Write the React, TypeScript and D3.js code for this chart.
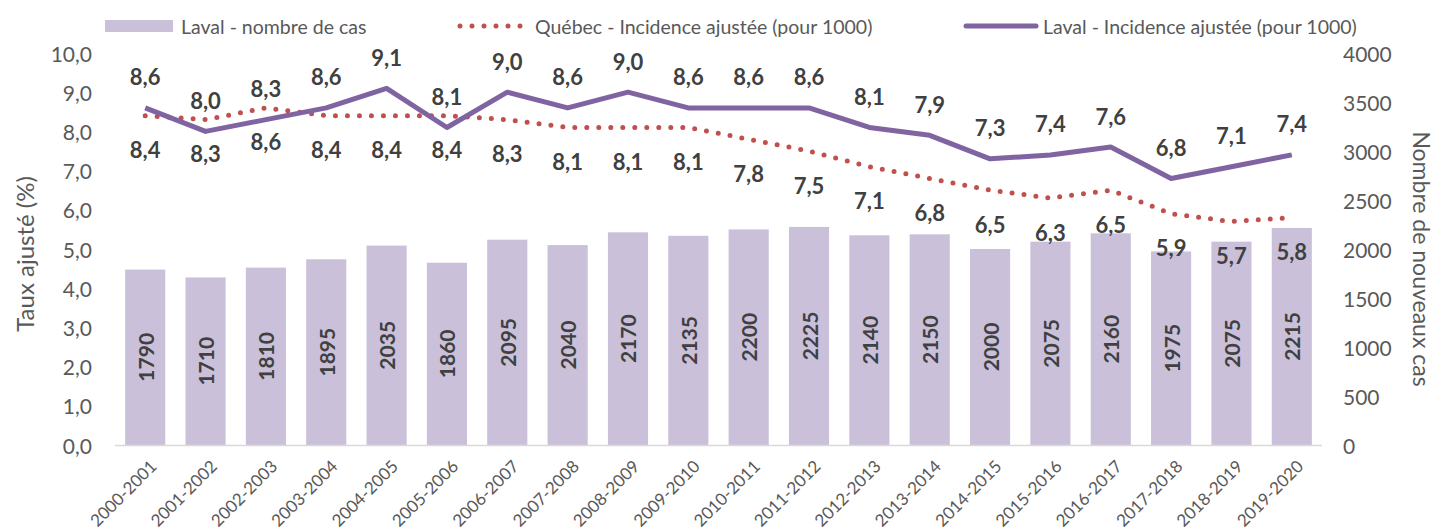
import { scaleBand, scaleLinear, line, range } from 'd3';

const seasons = [
  '2000-2001', '2001-2002', '2002-2003', '2003-2004', '2004-2005', '2005-2006', '2006-2007',
  '2007-2008', '2008-2009', '2009-2010', '2010-2011', '2011-2012', '2012-2013', '2013-2014',
  '2014-2015', '2015-2016', '2016-2017', '2017-2018', '2018-2019', '2019-2020',
];
const lavalCases = [1790, 1710, 1810, 1895, 2035, 1860, 2095, 2040, 2170, 2135, 2200, 2225, 2140, 2150, 2000, 2075, 2160, 1975, 2075, 2215];
const quebecRate = [8.4, 8.3, 8.6, 8.4, 8.4, 8.4, 8.3, 8.1, 8.1, 8.1, 7.8, 7.5, 7.1, 6.8, 6.5, 6.3, 6.5, 5.9, 5.7, 5.8];
const lavalRate = [8.6, 8.0, 8.3, 8.6, 9.1, 8.1, 9.0, 8.6, 9.0, 8.6, 8.6, 8.6, 8.1, 7.9, 7.3, 7.4, 7.6, 6.8, 7.1, 7.4];
const leftTicks = range(0, 10.01, 1);
const rightTicks = range(0, 4001, 500);

const W = 1437;
const H = 531;
const left = 115;
const right = 1322;
const top = 53;
const bottom = 445;

const FONT = 'Lato, "Open Sans", sans-serif';
const BAR = '#cbc0da';
const PURPLE = '#8064a2';
const RED = '#c0504d';
const TICK = '#595959';
const LABEL = '#404040';

const fmt = (v: number) => v.toFixed(1).replace('.', ',');

export default function App() {
  const x = scaleBand<string>().domain(seasons).range([left, right]).paddingInner(0.335).paddingOuter(0.168);
  const yRate = scaleLinear().domain([0, 10]).range([bottom, top]);
  const yCases = scaleLinear().domain([0, 4000]).range([bottom, top]);
  const cx = (i: number) => (x(seasons[i]) as number) + x.bandwidth() / 2;

  const path = line<number>()
    .x((_, i) => cx(i))
    .y((d) => yRate(d));

  return (
    <svg width={W} height={H} style={{ position: 'absolute', left: 0, top: 0 }} fontFamily={FONT}>
      <rect width={W} height={H} fill="white" />

      {/* bars */}
      {lavalCases.map((d, i) => (
        <rect key={i} x={x(seasons[i])} y={yCases(d)} width={x.bandwidth()} height={bottom - yCases(d)} fill={BAR} />
      ))}
      {lavalCases.map((d, i) => (
        <text
          key={i}
          transform={`translate(${cx(i)}, ${(bottom + yCases(d)) / 2}) rotate(-90)`}
          textAnchor="middle"
          dominantBaseline="central"
          fontWeight="bold"
          fontSize="21"
          fill={LABEL}
        >
          {d}
        </text>
      ))}

      <line x1={left} x2={right} y1={bottom + 0.5} y2={bottom + 0.5} stroke="#d9d9d9" strokeWidth="1.5" />

      {/* lines */}
      <path d={path(quebecRate) || ''} fill="none" stroke={RED} strokeWidth="5" strokeDasharray="0 12" strokeLinecap="round" />
      <path d={path(lavalRate) || ''} fill="none" stroke={PURPLE} strokeWidth="5" strokeLinejoin="round" />

      {lavalRate.map((d, i) => (
        <text key={i} x={cx(i)} y={yRate(d) - 31} textAnchor="middle" dominantBaseline="central" fontWeight="bold" fontSize="22" fill={LABEL}>
          {fmt(d)}
        </text>
      ))}
      {quebecRate.map((d, i) => (
        <text key={i} x={cx(i)} y={yRate(d) + 34} textAnchor="middle" dominantBaseline="central" fontWeight="bold" fontSize="22" fill={LABEL}>
          {fmt(d)}
        </text>
      ))}

      {/* left axis */}
      {leftTicks.map((t) => (
        <text key={t} x={92} y={yRate(t)} textAnchor="end" dominantBaseline="central" fontSize="21" fill={TICK}>
          {fmt(t)}
        </text>
      ))}
      <text transform={`translate(24, 254) rotate(-90)`} textAnchor="middle" dominantBaseline="central" fontSize="24" fill={TICK}>
        Taux ajusté (%)
      </text>

      {/* right axis */}
      {rightTicks.map((t) => (
        <text key={t} x={1343} y={yCases(t)} textAnchor="start" dominantBaseline="central" fontSize="21" fill={TICK}>
          {t}
        </text>
      ))}
      <text transform={`translate(1422, 259) rotate(90)`} textAnchor="middle" dominantBaseline="central" fontSize="23" fill={TICK}>
        Nombre de nouveaux cas
      </text>

      {/* x labels */}
      {seasons.map((s, i) => (
        <text
          key={s}
          transform={`translate(${cx(i) + 8}, ${bottom + 18}) rotate(-45)`}
          textAnchor="end"
          dominantBaseline="central"
          fontSize="17"
          fill={TICK}
        >
          {s}
        </text>
      ))}

      {/* legend */}
      <rect x={105} y={20} width={68} height={12} fill={BAR} />
      <text x={181} y={26} dominantBaseline="central" fontSize="19.5" fill={TICK}>
        Laval - nombre de cas
      </text>
      <line x1={460} x2={523} y1={26} y2={26} stroke={RED} strokeWidth="5" strokeDasharray="0 12" strokeLinecap="round" />
      <text x={535} y={26} dominantBaseline="central" fontSize="19.5" fill={TICK}>
        Québec - Incidence ajustée (pour 1000)
      </text>
      <line x1={966} x2={1036} y1={26} y2={26} stroke={PURPLE} strokeWidth="5" strokeLinecap="round" />
      <text x={1043} y={26} dominantBaseline="central" fontSize="19.5" fill={TICK}>
        Laval - Incidence ajustée (pour 1000)
      </text>
    </svg>
  );
}
